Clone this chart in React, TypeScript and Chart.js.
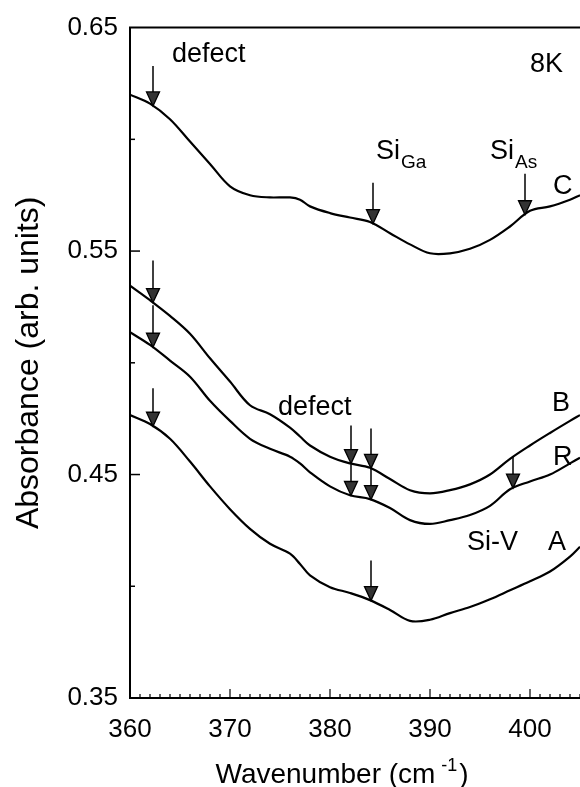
import React, { useEffect, useRef } from "react";
import { Chart, registerables } from "chart.js";

Chart.register(...registerables);

// ---- data ----
const wavenumbers = [360, 362, 364, 366, 368, 370, 372, 374, 376, 377, 378, 380, 382, 384, 386, 388, 390, 392, 394, 396, 398, 400, 402, 404, 405];
const curveC = [0.620, 0.616, 0.609, 0.599, 0.589, 0.579, 0.575, 0.574, 0.574, 0.573, 0.570, 0.567, 0.565, 0.563, 0.558, 0.553, 0.549, 0.549, 0.551, 0.555, 0.561, 0.568, 0.570, 0.573, 0.575];
const curveB = [0.5345, 0.528, 0.521, 0.513, 0.502, 0.4916, 0.481, 0.477, 0.471, 0.467, 0.463, 0.458, 0.455, 0.453, 0.448, 0.443, 0.4416, 0.443, 0.4456, 0.450, 0.457, 0.463, 0.4686, 0.474, 0.4766];
const curveR = [0.5137, 0.508, 0.501, 0.4938, 0.483, 0.474, 0.466, 0.4615, 0.458, 0.455, 0.451, 0.4447, 0.4407, 0.439, 0.435, 0.4296, 0.4279, 0.4296, 0.4319, 0.436, 0.4434, 0.4469, 0.450, 0.455, 0.4575];
const curveA = [0.4766, 0.4726, 0.466, 0.4558, 0.4447, 0.4345, 0.4257, 0.419, 0.4146, 0.410, 0.4049, 0.3996, 0.397, 0.3938, 0.3894, 0.3845, 0.3850, 0.388, 0.3907, 0.3942, 0.3982, 0.4022, 0.4066, 0.4133, 0.4177];

const seriesNames = ["C", "B", "R", "A"];
const seriesValues = [curveC, curveB, curveR, curveA];

// arrows: which curve, where (wavenumber)
const arrowSeries = ["C", "C", "C", "B", "R", "A", "B", "B", "R", "R", "R", "A"];
const arrowX = [362.3, 384.3, 399.5, 362.3, 362.3, 362.3, 382.1, 384.1, 382.1, 384.1, 398.3, 384.1];
const arrowShaftPx = [40, 41, 41, 42, 42, 38, 38, 40, 31, 31, 32, 40];

// text labels (left x in wavenumber, baseline in absorbance)
const labelText = ["defect", "8K", "C", "defect", "B", "R", "Si-V", "A"];
const labelX = [364.2, 400.0, 402.3, 374.8, 402.2, 402.3, 393.7, 401.8];
const labelY = [0.6345, 0.6301, 0.5757, 0.4766, 0.4783, 0.4544, 0.4164, 0.4164];
// subscripted labels
const subMain = ["Si", "Si"];
const subSub = ["Ga", "As"];
const subX = [384.6, 396.0];
const subY = [0.5912, 0.5912];

const xMin = 360;
const xMax = 405;
const yMin = 0.35;
const yMax = 0.65;

const FONT = "'Liberation Sans', Arial, Helvetica, sans-serif";

function interp(xs: number[], ys: number[], x: number): number {
  for (let i = 0; i < xs.length - 1; i++) {
    if (x >= xs[i] && x <= xs[i + 1]) {
      const t = (x - xs[i]) / (xs[i + 1] - xs[i]);
      return ys[i] + t * (ys[i + 1] - ys[i]);
    }
  }
  return ys[ys.length - 1];
}

const decorPlugin = {
  id: "decor",
  afterDatasetsDraw(chart: any) {
    const ctx = chart.ctx as CanvasRenderingContext2D;
    const xs = chart.scales.x;
    const ys = chart.scales.y;
    const area = chart.chartArea;
    ctx.save();
    ctx.strokeStyle = "#000";
    ctx.fillStyle = "#000";
    // frame
    ctx.lineWidth = 2;
    ctx.beginPath();
    ctx.moveTo(area.right + 2, area.top);
    ctx.lineTo(area.left, area.top);
    ctx.lineTo(area.left, area.bottom);
    ctx.lineTo(area.right + 2, area.bottom);
    ctx.stroke();
    // x ticks (inside)
    ctx.lineWidth = 1.2;
    for (let v = xMin; v <= xMax; v++) {
      const px = xs.getPixelForValue(v);
      const len = v % 10 === 0 ? 9 : 4;
      ctx.beginPath();
      ctx.moveTo(px, area.bottom);
      ctx.lineTo(px, area.bottom - len);
      ctx.stroke();
    }
    // y ticks (inside)
    ctx.lineWidth = 1.5;
    for (let k = 1; k < 6; k++) {
      const v = yMin + k * 0.05;
      const py = ys.getPixelForValue(v);
      const len = k % 2 === 0 ? 10 : 5;
      ctx.beginPath();
      ctx.moveTo(area.left, py);
      ctx.lineTo(area.left + len, py);
      ctx.stroke();
    }
    // arrows
    for (let i = 0; i < arrowX.length; i++) {
      const s = seriesNames.indexOf(arrowSeries[i]);
      const tipV = interp(wavenumbers, seriesValues[s], arrowX[i]);
      const px = xs.getPixelForValue(arrowX[i]);
      const py = ys.getPixelForValue(tipV);
      const top = py - arrowShaftPx[i];
      ctx.lineWidth = 1.5;
      ctx.beginPath();
      ctx.moveTo(px, top);
      ctx.lineTo(px, py - 10);
      ctx.stroke();
      ctx.beginPath();
      ctx.moveTo(px, py);
      ctx.lineTo(px - 6.5, py - 14);
      ctx.lineTo(px + 6.5, py - 14);
      ctx.closePath();
      ctx.fillStyle = "#333";
      ctx.fill();
      ctx.lineWidth = 1.3;
      ctx.stroke();
    }
    // labels
    ctx.fillStyle = "#000";
    ctx.textAlign = "left";
    ctx.textBaseline = "alphabetic";
    ctx.font = `27px ${FONT}`;
    for (let i = 0; i < labelText.length; i++) {
      ctx.fillText(labelText[i], xs.getPixelForValue(labelX[i]), ys.getPixelForValue(labelY[i]));
    }
    for (let i = 0; i < subMain.length; i++) {
      const px = xs.getPixelForValue(subX[i]);
      const py = ys.getPixelForValue(subY[i]);
      ctx.font = `27px ${FONT}`;
      ctx.fillText(subMain[i], px, py);
      const w = ctx.measureText(subMain[i]).width;
      ctx.font = `19px ${FONT}`;
      ctx.fillText(subSub[i], px + w + 1, py + 9);
    }
    // x-axis title with superscript
    const t1 = "Wavenumber (cm";
    const t2 = "-1";
    const t3 = ")";
    ctx.font = `28px ${FONT}`;
    const w1 = ctx.measureText(t1 + " ").width;
    const w3 = ctx.measureText(t3).width;
    ctx.font = `18px ${FONT}`;
    const w2 = ctx.measureText(t2).width;
    const total = w1 + w2 + w3;
    const cx = xs.getPixelForValue(381.2);
    const base = area.bottom + 85;
    let x0 = cx - total / 2;
    ctx.font = `28px ${FONT}`;
    ctx.fillText(t1, x0, base);
    x0 += w1;
    ctx.font = `18px ${FONT}`;
    ctx.fillText(t2, x0 - 2, base - 12);
    x0 += w2;
    ctx.font = `28px ${FONT}`;
    ctx.fillText(t3, x0, base);
    ctx.restore();
  },
};

export default function App() {
  const ref = useRef<HTMLCanvasElement | null>(null);
  useEffect(() => {
    if (!ref.current) return;
    const datasets = seriesNames.map((name, si) => ({
      label: name,
      data: wavenumbers.map((x, i) => ({ x, y: seriesValues[si][i] })),
      showLine: true,
      borderColor: "#000",
      borderWidth: 2.2,
      pointRadius: 0,
      tension: 0.35,
      fill: false,
    }));
    const chart = new Chart(ref.current, {
      type: "scatter",
      data: { datasets },
      options: {
        animation: false,
        responsive: false,
        maintainAspectRatio: false,
        layout: { padding: { top: 20, right: 0, left: 0, bottom: 0 } },
        plugins: { legend: { display: false }, tooltip: { enabled: false } },
        scales: {
          x: {
            type: "linear",
            min: xMin,
            max: xMax,
            grid: { display: false, drawTicks: false },
            border: { display: false },
            afterFit: (s: any) => {
              s.height = 89;
              s.paddingRight = 0;
              s.paddingLeft = 0;
            },
            ticks: {
              stepSize: 1,
              autoSkip: false,
              maxRotation: 0,
              padding: 16,
              color: "#000",
              font: { size: 26, family: FONT },
              callback: (v: any) => (Math.round(v) % 10 === 0 && Math.abs(v - Math.round(v)) < 1e-6 ? String(Math.round(v)) : ""),
            },
          },
          y: {
            type: "linear",
            min: yMin,
            max: yMax,
            grid: { display: false, drawTicks: false },
            border: { display: false },
            afterFit: (s: any) => {
              s.width = 130;
            },
            title: {
              display: true,
              text: "Absorbance (arb. units)",
              color: "#000",
              font: { size: 32, family: FONT },
              padding: { top: 10, bottom: 0 },
            },
            ticks: {
              stepSize: 0.05,
              padding: 12,
              color: "#000",
              font: { size: 26, family: FONT },
              callback: (v: any) => {
                const r = Math.round(v * 100);
                return (r - 35) % 10 === 0 ? (r / 100).toFixed(2) : "";
              },
            },
          },
        },
      },
      plugins: [decorPlugin],
    });
    return () => chart.destroy();
  }, []);
  return (
    <div style={{ position: "fixed", left: 0, top: 0, width: 580, height: 787, background: "#fff" }}>
      <canvas ref={ref} width={580} height={787} style={{ width: 580, height: 787, display: "block" }} />
    </div>
  );
}
